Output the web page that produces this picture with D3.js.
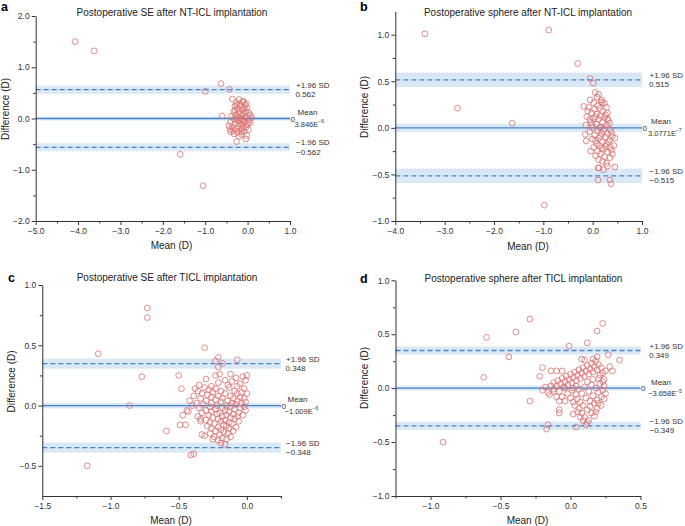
<!DOCTYPE html>
<html><head><meta charset="utf-8">
<script src="https://cdn.jsdelivr.net/npm/d3@7"></script>
<style>
body{margin:0;background:#fff}
text{font-family:Arial,"Liberation Sans",Helvetica,sans-serif}
</style>
</head><body>
<svg id="chart" width="685" height="526"></svg>
<script>
// ---------------- DATA ----------------
const titles = [
  "Postoperative SE after NT-ICL implantation",
  "Postoperative sphere after NT-ICL implantation",
  "Postoperative SE after TICL implantation",
  "Postoperative sphere after TICL implantation"
];
const letters = ["a","b","c","d"];
const xTitle = "Mean (D)";
const yTitle = "Difference (D)";

// [mean, difference]
const seNT = [
[-4.07,1.50],[-3.62,1.32],[-1.00,0.53],[-0.63,0.68],[-0.43,0.57],[-0.60,0.05],[-1.59,-0.70],[-1.05,-1.31],
[-0.36,0.38],[-0.20,0.37],[-0.27,0.31],[-0.12,0.32],[-0.06,0.27],[-0.30,0.24],[-0.17,0.24],[-0.02,0.21],
[-0.24,0.19],[-0.12,0.17],[-0.05,0.14],[-0.33,0.13],[-0.21,0.12],[0.03,0.11],[-0.10,0.09],[-0.28,0.07],
[-0.16,0.05],[0.00,0.05],[-0.22,0.02],[0.09,0.02],[-0.06,0.01],[-0.32,-0.01],[-0.14,-0.02],[0.04,-0.03],
[-0.24,-0.05],[-0.40,-0.07],[-0.08,-0.07],[-0.18,-0.09],[-0.30,-0.11],[0.01,-0.10],[-0.44,-0.14],[-0.12,-0.13],
[-0.22,-0.15],[-0.36,-0.17],[-0.04,-0.17],[-0.42,-0.21],[-0.28,-0.20],[-0.16,-0.21],[0.02,-0.22],[-0.40,-0.26],
[-0.08,-0.25],[-0.24,-0.27],[-0.32,-0.30],[-0.14,-0.31],[-0.02,-0.33],[-0.20,-0.35],[-0.04,-0.40],[-0.26,-0.45],
[-0.10,0.34],[-0.26,0.26],[-0.03,0.29],[-0.16,0.10],[-0.38,0.04],[0.06,0.07],[-0.10,-0.04],[-0.27,0.00],
[0.06,-0.08],[-0.34,-0.24],[-0.12,-0.19],[-0.19,0.28],[-0.08,0.21],[-0.20,-0.02],[-0.30,0.16],[-0.02,-0.12],[-0.15,-0.26]
];
const sphNT = [
[-3.40,1.01],[-0.89,1.05],[-0.30,0.69],[-2.74,0.21],[-1.63,0.05],[-0.05,0.53],[0.01,0.48],[-0.98,-0.83],
[0.11,-0.56],[0.35,-0.56],[0.37,-0.60],[0.45,-0.42],[0.11,-0.43],
[0.05,0.38],[0.09,0.33],[-0.05,0.30],[0.17,0.28],[0.02,0.27],[0.24,0.26],[-0.18,0.23],[0.10,0.24],[0.28,0.22],
[-0.08,0.22],[0.04,0.20],[0.14,0.21],[0.20,0.18],[-0.02,0.16],[0.30,0.16],[0.08,0.15],[0.16,0.13],[-0.12,0.12],
[0.24,0.11],[0.02,0.10],[0.12,0.09],[0.32,0.08],[0.20,0.06],[-0.04,0.06],[0.08,0.04],[0.28,0.03],[-0.14,0.03],
[0.16,0.01],[0.00,0.00],[0.24,-0.01],[0.36,-0.02],[0.10,-0.03],[-0.06,-0.04],[0.30,-0.06],[0.18,-0.06],[0.04,-0.08],
[0.40,-0.09],[-0.15,-0.07],[0.26,-0.10],[0.12,-0.11],[0.45,-0.11],[0.34,-0.13],[0.06,-0.14],[0.20,-0.15],[-0.13,-0.14],
[0.28,-0.17],[0.43,-0.19],[0.14,-0.19],[0.36,-0.21],[0.02,-0.21],[0.22,-0.23],[0.10,-0.25],[-0.04,-0.25],[0.30,-0.26],
[0.16,-0.28],[0.40,-0.28],[0.06,-0.30],[0.24,-0.31],[0.35,-0.32],[0.12,-0.34],[0.20,-0.36],[0.28,-0.38],[0.30,-0.41],
[0.13,-0.43],[0.18,0.30],[0.12,0.36],[0.26,0.14],[-0.10,0.18],[0.06,0.12],[0.34,0.05],[0.14,0.00],[0.22,-0.03],
[0.08,-0.17],[0.32,-0.15],[0.18,-0.22],[0.26,-0.20],[0.38,-0.24],[0.00,-0.12],[-0.02,0.03],[0.30,0.10],[0.20,0.27],
[-0.06,0.09],[0.16,-0.09],[0.38,-0.05],[0.22,-0.45]
];
const seTICL = [
[-0.73,0.81],[-0.73,0.73],[-1.09,0.43],[-0.77,0.24],[-0.31,0.48],[-0.50,0.25],[-0.48,0.14],[-0.21,0.40],
[-0.07,0.38],[0.00,0.25],[-0.86,0.00],[-1.17,-0.50],[-0.59,-0.21],[-0.49,-0.16],[-0.45,-0.16],[-0.41,-0.41],
[-0.39,-0.40],[-0.33,-0.24],[-0.31,-0.25],[-0.16,-0.32],[-0.25,-0.28],[-0.18,0.35],[-0.21,0.32],[-0.20,0.26],
[-0.23,0.37],[-0.44,-0.04],[-0.47,-0.08],[-0.34,-0.11],
[-0.23,0.25],[-0.12,0.26],[-0.03,0.24],
[-0.30,0.22],[-0.16,0.21],[-0.08,0.23],[-0.01,0.21],
[-0.21,0.19],[-0.11,0.20],[-0.05,0.18],
[-0.35,0.17],[-0.26,0.16],[-0.14,0.17],[-0.07,0.16],
[-0.38,0.14],[-0.31,0.15],[-0.23,0.14],[-0.13,0.15],[-0.02,0.14],
[-0.36,0.12],[-0.28,0.13],[-0.19,0.12],[-0.09,0.12],[-0.04,0.11],
[-0.33,0.10],[-0.25,0.11],[-0.16,0.10],[-0.07,0.10],[0.00,0.10],
[-0.39,0.08],[-0.29,0.09],[-0.21,0.08],[-0.12,0.08],[-0.05,0.07],
[-0.34,0.06],[-0.26,0.07],[-0.18,0.06],[-0.10,0.06],[-0.02,0.06],
[-0.42,0.04],[-0.30,0.04],[-0.23,0.05],[-0.14,0.04],[-0.07,0.04],[-0.01,0.03],
[-0.37,0.02],[-0.26,0.02],[-0.19,0.03],[-0.11,0.02],[-0.04,0.02],
[-0.40,0.00],[-0.32,0.01],[-0.22,0.00],[-0.15,0.00],[-0.08,0.01],[-0.02,-0.01],
[-0.35,-0.02],[-0.27,-0.01],[-0.18,-0.02],[-0.12,-0.01],[-0.05,-0.02],
[-0.30,-0.04],[-0.23,-0.03],[-0.16,-0.04],[-0.09,-0.03],[-0.01,-0.04],
[-0.43,-0.05],[-0.33,-0.06],[-0.26,-0.05],[-0.20,-0.06],[-0.13,-0.05],[-0.06,-0.06],
[-0.28,-0.08],[-0.22,-0.07],[-0.15,-0.08],[-0.10,-0.07],[-0.03,-0.08],
[-0.36,-0.09],[-0.25,-0.10],[-0.18,-0.09],[-0.12,-0.10],[-0.07,-0.09],
[-0.30,-0.12],[-0.21,-0.11],[-0.16,-0.12],[-0.09,-0.11],
[-0.34,-0.13],[-0.27,-0.14],[-0.19,-0.13],[-0.13,-0.14],[-0.06,-0.13],
[-0.24,-0.15],[-0.17,-0.16],[-0.11,-0.15],
[-0.29,-0.17],[-0.21,-0.18],[-0.15,-0.17],[-0.08,-0.18],
[-0.26,-0.19],[-0.19,-0.20],[-0.13,-0.19],
[-0.23,-0.21],[-0.17,-0.22],[-0.10,-0.21],
[-0.27,-0.23],[-0.20,-0.24],[-0.14,-0.23],
[-0.24,-0.26],[-0.18,-0.27],[-0.12,-0.26],
[-0.21,-0.29],[-0.15,-0.28],[-0.19,-0.31]
];
const sphTICL = [
[-0.29,0.64],[-0.60,0.47],[-0.39,0.52],[-0.44,0.29],[-0.62,0.10],[0.23,0.60],[0.19,0.53],[0.12,0.42],
[-0.01,0.39],[0.27,0.31],[0.35,0.26],[-0.20,0.19],[-0.14,0.16],[-0.10,0.16],[-0.06,0.16],[-0.22,0.11],
[-0.29,-0.12],[-0.91,-0.50],[-0.16,-0.34],[-0.17,-0.38],[0.04,-0.36],[-0.08,-0.20],[-0.08,-0.23],[0.02,-0.24],
[0.30,0.16],[0.28,0.20],
[-0.20,-0.02],[-0.18,0.01],[-0.16,-0.04],[-0.14,0.02],[-0.12,-0.01],[-0.12,0.05],[-0.10,0.02],[-0.09,0.07],
[-0.08,-0.03],[-0.07,0.04],[-0.06,0.09],[-0.05,0.01],[-0.04,0.06],[-0.03,0.11],[-0.02,0.03],[-0.01,0.08],
[0.00,0.13],[0.01,0.05],[0.02,0.10],[0.03,0.15],[0.04,0.07],[0.05,0.12],[0.06,0.17],[0.07,0.09],[0.08,0.14],
[0.09,0.19],[0.10,0.11],[0.11,0.16],[0.12,0.21],[0.13,0.13],[0.14,0.18],[0.15,0.23],[0.16,0.15],[0.17,0.20],
[0.18,0.25],[0.19,0.17],[0.20,0.22],[0.21,0.12],[0.22,0.19],[0.23,0.14],[0.24,0.08],[0.25,0.16],[0.10,0.26],
[0.08,0.27],[0.19,0.29],[0.16,0.27],
[-0.15,-0.06],[-0.10,-0.08],[-0.06,-0.08],[-0.04,-0.12],[-0.02,-0.05],[0.00,-0.09],[0.01,-0.02],[0.02,-0.13],
[0.03,-0.16],[0.04,-0.06],[0.05,-0.10],[0.06,-0.01],[0.06,-0.19],[0.07,-0.13],[0.08,-0.23],[0.08,-0.05],
[0.09,-0.16],[0.10,0.01],[0.10,-0.27],[0.11,-0.09],[0.12,-0.20],[0.12,-0.32],[0.13,-0.30],[0.13,-0.03],
[0.14,-0.17],[0.14,-0.12],[0.15,-0.23],[0.15,0.03],[0.16,-0.07],[0.17,-0.14],[0.17,-0.26],[0.18,0.00],
[0.19,-0.11],[0.19,-0.19],[0.20,-0.04],[0.20,-0.14],[0.21,0.04],[0.22,-0.08],[0.22,-0.16],[0.23,-0.02],
[0.24,0.02],[0.25,-0.05],[0.24,-0.10],[0.09,-0.30],[0.07,-0.27],[0.05,-0.22],[0.11,-0.34],[0.18,-0.22],
[-0.08,-0.12],[-0.04,0.00],[0.02,0.00],[0.12,0.06],[0.16,0.08],[0.20,0.09],[0.04,0.02],[-0.12,-0.03],[0.23,0.06]
];
const panelData = [seNT, sphNT, seTICL, sphTICL];

// limits of agreement [upper, mean, lower]
const loaValues = [[0.562,0,-0.562],[0.515,0,-0.515],[0.348,0,-0.348],[0.349,0,-0.349]];
const ciLoA  = [0.08, 0.078, 0.042, 0.038];
const ciMean = [0.04, 0.045, 0.024, 0.023];
const upperText = ["0.562","0.515","0.348","0.349"];
const lowerText = ["\u22120.562","\u22120.515","\u22120.348","\u22120.349"];
const meanBase  = ["3.846E","3.0771E","\u22121.009E","\u22123.658E"];
const meanExp   = ["\u22126","\u22127","\u22126","\u22125"];

// axes domains and ticks
const xDomains = [[-5,1],[-4,1],[-1.5,0.25],[-1.25,0.5]];
const yDomains = [[-2,2],[-1,1.25],[-0.75,1],[-1,1]];
const xMajor = [[-5,-4,-3,-2,-1,0,1],[-4,-3,-2,-1,0,1],[-1.5,-1,-0.5,0],[-1,-0.5,0,0.5]];
const xMinor = [[-4.5,-3.5,-2.5,-1.5,-0.5,0.5],[-3.5,-2.5,-1.5,-0.5,0.5],[-1.25,-0.75,-0.25,0.25],[-1.25,-0.75,-0.25,0.25]];
const yMajor = [[-2,-1,0,1,2],[-1,-0.5,0,0.5,1],[-0.5,0,0.5,1],[-1,-0.5,0,0.5,1]];
const yMinor = [[-1.5,-0.5,0.5,1.5],[-0.75,-0.25,0.25,0.75],[-0.25,0.25,0.75],[-0.75,-0.25,0.25,0.75]];

// ---------------- LAYOUT ----------------
const layout = [
  {l:35.7, r:290, t:16, b:221, lx:1, ly:10.5, tx:172, ty:15.5, xtx:171.5, xty:249, ytx:8.5, yty:109, dx:6},
  {l:395.3, r:642, t:11.4, b:221, lx:360, ly:10.5, tx:528, ty:15.5, xtx:528, xty:250, ytx:368, yty:107, dx:7.5},
  {l:42.3, r:281, t:285, b:496, lx:8, ly:282, tx:167, ty:281, xtx:171, xty:524, ytx:15, yty:381.5, dx:5},
  {l:395.5, r:640.5, t:280.3, b:496, lx:360, ly:283, tx:523.5, ty:282, xtx:527.5, xty:524, ytx:368, yty:378, dx:9}
];

const svg = d3.select("#chart");
const fmt = v => (v < 0 ? "\u2212" : "") + Math.abs(v).toFixed(1);
const axisColor = "#333";
const blue = "#4583c9";
const bandFill = "#dbe9f7";
const ptColor = "#d9706e";

layout.forEach((L, i) => {
  const g = svg.append("g");
  const x = d3.scaleLinear().domain(xDomains[i]).range([L.l, L.r]);
  const y = d3.scaleLinear().domain(yDomains[i]).range([L.b, L.t]);

  // bands
  loaValues[i].forEach((v, k) => {
    const ci = k === 1 ? ciMean[i] : ciLoA[i];
    g.append("rect")
      .attr("x", L.l).attr("width", L.r - L.l)
      .attr("y", y(v + ci)).attr("height", y(v - ci) - y(v + ci))
      .attr("fill", bandFill);
  });
  // lines
  loaValues[i].forEach((v, k) => {
    g.append("line")
      .attr("x1", L.l).attr("x2", L.r)
      .attr("y1", y(v)).attr("y2", y(v))
      .attr("stroke", blue).attr("stroke-width", 1.3)
      .attr("stroke-dasharray", k === 1 ? null : "5,3");
  });

  // axes
  g.append("g").attr("transform", `translate(0,${L.b})`)
    .call(d3.axisBottom(x).tickValues(xMajor[i]).tickFormat(fmt).tickSize(4).tickSizeOuter(0).tickPadding(3));
  g.append("g").attr("transform", `translate(0,${L.b})`)
    .call(d3.axisBottom(x).tickValues(xMinor[i]).tickFormat("").tickSize(2.5).tickSizeOuter(0))
    .select(".domain").remove();
  g.append("g").attr("transform", `translate(${L.l},0)`)
    .call(d3.axisLeft(y).tickValues(yMajor[i]).tickFormat(fmt).tickSize(4).tickSizeOuter(0).tickPadding(2));
  g.append("g").attr("transform", `translate(${L.l},0)`)
    .call(d3.axisLeft(y).tickValues(yMinor[i]).tickFormat("").tickSize(2.5).tickSizeOuter(0))
    .select(".domain").remove();
  g.selectAll(".domain, .tick line").attr("stroke", axisColor);
  g.selectAll(".tick text").attr("fill", "#333").style("font-size", "8.5px")
    .style("font-family", "Arial, 'Liberation Sans', sans-serif");

  // points
  g.append("g").selectAll("circle").data(panelData[i]).join("circle")
    .attr("cx", d => x(d[0])).attr("cy", d => y(d[1])).attr("r", 2.9)
    .attr("fill", "none").attr("stroke", ptColor).attr("stroke-width", 0.8);

  // right labels
  const tx = L.r + L.dx;
  const lab = (txt, xx, yy, fs) => g.append("text").attr("x", xx).attr("y", yy)
      .attr("fill", "#333").style("font-size", fs || "8px").text(txt);
  const yu = y(loaValues[i][0]), ym = y(loaValues[i][1]), yl = y(loaValues[i][2]);
  lab("+1.96 SD", tx, yu - 2);
  lab(upperText[i], tx - 0.5, yu + 7.5);
  lab("Mean", tx + 1.5, ym - 3.5);
  const mt = lab(meanBase[i], tx - 1.5, ym + 8, "7.5px");
  mt.append("tspan").attr("dy", -3.5).style("font-size", "5px").text(meanExp[i]);
  lab("\u22121.96 SD", tx, yl - 2);
  lab(lowerText[i], tx, yl + 7.5);
  g.append("text").attr("x", L.r + 0.5).attr("y", ym + 3)
    .attr("fill", "#333").style("font-size", "8px").text("0");

  // titles
  g.append("text").attr("x", L.tx).attr("y", L.ty).attr("text-anchor", "middle")
    .attr("fill", "#222").style("font-size", "10px").text(titles[i]);
  g.append("text").attr("x", L.lx).attr("y", L.ly)
    .attr("fill", "#000").style("font-size", "12.5px").style("font-weight", "bold").text(letters[i]);
  g.append("text").attr("x", L.xtx).attr("y", L.xty).attr("text-anchor", "middle")
    .attr("fill", "#222").style("font-size", "10px").text(xTitle);
  g.append("text").attr("transform", `translate(${L.ytx},${L.yty}) rotate(-90)`)
    .attr("text-anchor", "middle").attr("fill", "#222").style("font-size", "10px").text(yTitle);
});
</script>
</body></html>
